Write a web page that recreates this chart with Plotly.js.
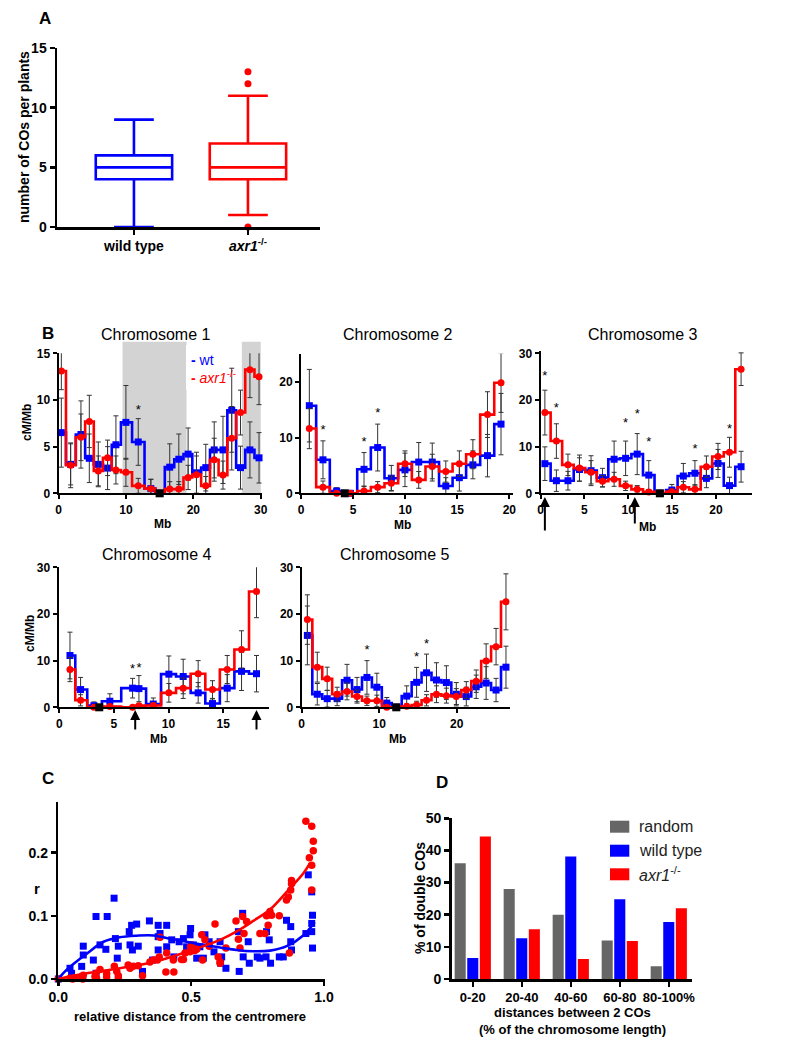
<!DOCTYPE html>
<html>
<head>
<meta charset="utf-8">
<script src="https://cdn.plot.ly/plotly-3.0.1.min.js"></script>
<style>html,body{margin:0;padding:0;background:#fff;}#chart{width:789px;height:1049px;}</style>
</head>
<body>
<div id="chart"></div>
<script>
// ---------------- DATA ----------------
// Panel A : box plot summary (number of COs per plant)
const aGroups = ['wild type', 'axr1'];
const aQ1 = [4, 4];
const aMedian = [5, 5];
const aQ3 = [6, 7];
const aLowerFence = [0, 1];
const aUpperFence = [9, 11];
const aOutlierGroup = [1, 1, 1];
const aOutlierValue = [12, 13, 0];

// Panel B : cM/Mb per bin (bin centres in Mb), wt (blue) and axr1 (red)
const chr1Pos = [0.42,1.80,3.33,4.57,5.90,7.28,8.52,10.0,11.83,13.7,15.04,16.5,17.85,19.23,20.47,21.85,23.1,24.4,25.7,27.0,28.4,29.75];
const chr1Wt = [6.5,3.1,6.3,3.75,3.1,2.7,5.2,7.6,5.5,0.5,0,2.8,3.65,4.2,2.2,2.75,4.65,4.65,8.9,2.75,4.65,3.8];
const chr1WtErr = [3.7,2.2,3.6,2.6,2.4,2.3,3.1,3.95,2.5,1.0,0,2.5,2.7,2.8,2.2,2.5,3.0,3.6,4.5,2.3,3.0,2.7];
const chr1Axr = [13.1,3.0,6.0,7.7,2.4,3.8,2.5,2.25,0.8,0.5,0,0.45,0.45,1.7,2.0,0.8,3.6,1.95,5.9,8.65,13.25,12.5];
const chr1AxrErr = [2.0,2.4,2.5,2.8,1.6,1.9,1.5,1.5,0.8,1.0,0,0.8,0.8,1.3,2.0,1.0,2.3,1.5,3.4,2.4,3.0,3.0];

const chr2Pos = [0.8,2.11,3.42,4.74,6.05,7.36,8.67,9.98,11.3,12.6,13.9,15.2,16.5,17.9,19.2];
const chr2Wt = [15.7,6.0,0.4,0,4.3,8.2,2.7,4.2,5.6,5.6,1.3,2.8,5.1,6.75,12.4];
const chr2WtErr = [6.5,3.4,0.6,0,3.0,4.2,2.3,3.0,3.5,3.4,1.5,2.4,2.5,3.8,5.5];
const chr2Axr = [11.6,1.1,0,0,0.4,1.1,1.8,5.3,2.4,4.8,3.9,5.3,7.0,14.1,19.8];
const chr2AxrErr = [3.6,1.1,0,0,0.8,1.0,1.3,2.3,1.5,2.2,1.9,2.3,2.6,4.1,5.3];

const chr3Pos = [0.5,1.81,3.13,4.44,5.76,7.07,8.39,9.7,11.02,12.34,13.65,14.97,16.28,17.6,18.91,20.23,21.54,22.86];
const chr3Wt = [6.35,2.7,2.7,5.1,4.85,3.35,7.3,7.5,8.4,3.9,0,0.7,3.7,4.3,3.2,6.4,1.65,5.7];
const chr3WtErr = [3.6,2.3,2.0,2.5,3.2,2.0,3.9,3.7,4.4,3.1,0,1.2,2.7,2.7,2.0,3.0,1.8,3.3];
const chr3Axr = [17.3,11.2,6.1,5.4,4.5,2.6,3.0,1.6,0.85,0.3,0,0.35,1.3,0.85,5.7,7.9,8.8,26.6];
const chr3AxrErr = [4.8,3.7,2.3,2.8,2.5,1.2,1.5,1.0,0.8,0.5,0,0.6,1.2,1.0,2.3,2.8,3.2,3.5];

const chr4Pos = [0.98,1.95,3.17,4.63,6.71,7.29,8.6,10.03,11.34,12.71,14.02,15.37,16.68,18.05];
const chr4Wt = [11.1,3.8,0.35,1.3,4.1,4.0,0.7,7.1,6.6,3.1,0.8,4.1,7.7,7.2];
const chr4WtErr = [5.0,2.6,0.8,1.6,2.1,2.8,1.3,3.9,3.7,2.2,1.0,2.9,4.1,3.9];
const chr4Axr = [8.1,1.5,0,0.15,0,0.35,0.4,3.1,4.1,7.2,3.8,8.1,12.4,24.8];
const chr4AxrErr = [2.6,1.2,0,0.3,0,0.5,0.6,2.0,2.2,2.8,1.9,3.0,4.0,5.6];

const chr5Pos = [0.73,2.01,3.29,4.57,5.85,7.14,8.42,9.7,10.98,12.26,13.55,14.83,16.11,17.39,18.67,19.95,21.24,22.52,23.8,25.08,26.36];
const chr5Wt = [15.4,2.8,1.85,1.85,5.8,3.8,6.4,4.3,0.9,0,2.4,5.35,7.4,5.85,5.3,2.8,2.3,4.4,5.2,3.7,8.6];
const chr5WtErr = [6.3,2.3,1.8,1.5,3.4,2.6,3.6,3.0,1.2,0,2.2,3.2,4.0,3.7,3.6,2.5,2.0,2.5,3.5,2.5,4.5];
const chr5Axr = [18.8,8.6,6.1,2.8,3.4,2.3,1.4,1.4,0,0,0.2,0.5,1.5,2.8,2.5,2.3,3.7,5.6,9.9,13.0,22.6];
const chr5AxrErr = [5.3,3.2,2.5,1.5,1.8,1.4,1.0,1.2,0,0,0.5,0.8,1.2,1.8,1.6,1.7,1.8,2.4,3.7,3.9,6.0];

const centromeres = [15.0, 4.2, 13.6, 3.66, 12.2];

const chr1StarX = [11.83], chr1StarY = [8.8];
const chr2StarX = [2.11, 6.05, 7.36], chr2StarY = [11.2, 9.1, 14.3];
const chr3StarX = [0.5, 1.81, 9.7, 11.02, 12.34, 17.6, 21.54, 22.86], chr3StarY = [25, 18.2, 15, 16.9, 10.9, 9.3, 13.7, 31.8];
const chr4StarX = [6.71, 7.29, 18.05], chr4StarY = [8.1, 8.3, 31.2];
const chr5StarX = [8.42, 14.83, 16.11], chr5StarY = [12.1, 10.7, 13.4];

const chr1Shaded = [[9.5, 19.0], [27.2, 30.0]];
const chr3Arrows = [0.5, 10.75];
const chr4Arrows = [6.95, 18.05];

// Panel C : r vs relative distance from the centromere
const cWtX = [0,0.044,0.050,0.088,0.094,0.094,0.132,0.142,0.142,0.157,0.184,0.179,0.210,0.215,0.226,0.222,0.267,0.270,0.276,0.279,0.295,0.301,0.317,0.343,0.355,0.376,0.376,0.376,0.383,0.408,0.408,0.427,0.435,0.455,0.471,0.483,0.498,0.496,0.508,0.521,0.533,0.546,0.552,0.568,0.586,0.609,0.611,0.615,0.631,0.681,0.678,0.694,0.696,0.715,0.719,0.749,0.759,0.782,0.784,0.794,0.799,0.832,0.847,0.859,0.875,0.875,0.878,0.932,0.941,0.954,0.957,0.954,0.954,0.957];
const cWtY = [0,0.017,0.009,0.020,0.038,0.052,0.030,0.099,0.009,0.054,0.099,0.047,0.128,0.064,0.052,0.033,0.075,0.054,0.085,0.046,0.087,0.052,0.012,0.092,0.030,0.085,0.067,0.046,0.072,0.085,0.051,0.062,0.035,0.059,0.064,0.051,0.080,0.070,0.054,0.033,0.051,0.033,0.070,0.059,0.043,0.059,0.025,0.035,0.017,0.012,0.075,0.104,0.035,0.059,0.025,0.035,0.033,0.035,0.075,0.062,0.025,0.035,0.035,0.093,0.083,0.059,0.046,0.072,0.165,0.138,0.101,0.088,0.075,0.049];
const cAxrX = [0,0.044,0.054,0.063,0.088,0.092,0.094,0.138,0.142,0.144,0.157,0.182,0.182,0.211,0.220,0.226,0.226,0.263,0.270,0.282,0.301,0.317,0.345,0.358,0.373,0.383,0.380,0.405,0.408,0.433,0.435,0.464,0.471,0.477,0.496,0.498,0.502,0.514,0.521,0.540,0.543,0.552,0.568,0.590,0.602,0.609,0.609,0.631,0.669,0.678,0.684,0.694,0.699,0.709,0.759,0.778,0.784,0.790,0.797,0.803,0.832,0.859,0.866,0.870,0.875,0.878,0.878,0.932,0.954,0.960,0.960,0.945,0.954,0.954];
const cAxrY = [0,0.001,0.000,0.002,0.004,0.000,0.006,0.004,0.009,0.001,0.015,0.009,0.003,0.020,0.012,0.005,0.001,0.022,0.017,0.020,0.021,0.005,0.027,0.030,0.030,0.066,0.035,0.011,0.041,0.030,0.011,0.031,0.031,0.041,0.043,0.051,0.054,0.045,0.047,0.070,0.030,0.062,0.052,0.087,0.035,0.027,0.025,0.049,0.092,0.063,0.049,0.099,0.072,0.091,0.072,0.072,0.100,0.085,0.107,0.101,0.100,0.125,0.130,0.041,0.141,0.151,0.156,0.250,0.242,0.218,0.203,0.192,0.180,0.141];
const cWtFitX = [0,0.03,0.107,0.17,0.23,0.295,0.358,0.42,0.483,0.546,0.609,0.67,0.734,0.797,0.86,0.922,0.965];
const cWtFitY = [0,0.014,0.040,0.059,0.066,0.0686,0.069,0.064,0.059,0.054,0.050,0.046,0.044,0.045,0.052,0.069,0.090];
const cAxrFitX = [0,0.107,0.232,0.358,0.483,0.609,0.67,0.734,0.797,0.86,0.922,0.947];
const cAxrFitY = [0,0.009,0.017,0.027,0.043,0.062,0.075,0.092,0.110,0.138,0.167,0.183];

// Panel D : % of double COs by distance class
const dCategories = ['0-20', '20-40', '40-60', '60-80', '80-100%'];
const dRandom = [36, 28, 20, 12, 4];
const dWildType = [6.5, 12.7, 38.1, 24.8, 17.7];
const dAxr1 = [44.3, 15.5, 6.2, 11.8, 22.0];

// ---------------- STYLE / LAYOUT ----------------
const FONT = 'Liberation Sans, Arial, Helvetica, sans-serif';
const BLUE = '#0000FF', RED = '#FF0000', GRAY = '#666666';
const W = 789, H = 1049;
const PX = p => p / W;
const PY = p => 1 - p / H;

function axis(domPx, range, tickvals, anchor, isX, extra) {
  const o = {
    domain: isX ? [PX(domPx[0]), PX(domPx[1])] : [PY(domPx[1]), PY(domPx[0])],
    range: range, autorange: false, anchor: anchor,
    showline: true, linecolor: '#000', linewidth: 2,
    ticks: 'outside', ticklen: 5, tickwidth: 2, tickcolor: '#000',
    tickvals: tickvals, showgrid: false, zeroline: false, fixedrange: true,
    tickfont: {family: FONT, size: 12, color: '#000', weight: 'bold'}
  };
  return Object.assign(o, extra || {});
}

const traces = [];
const layout = {
  width: W, height: H, margin: {l: 0, r: 0, t: 0, b: 0},
  paper_bgcolor: '#fff', plot_bgcolor: 'rgba(0,0,0,0)', showlegend: false,
  font: {family: FONT, color: '#000'},
  bargap: 0.23, bargroupgap: 0.12, barmode: 'group',
  shapes: [], annotations: []
};

// Panel A
layout.xaxis = axis([57, 320], [-0.675, 1.632], [0, 1], 'y', true,
  {ticktext: ['wild type', '<i>axr1</i><sup>-/-</sup>'], linewidth: 2.5, tickwidth: 2.5,
   tickfont: {family: FONT, size: 14, color: '#000', weight: 'bold'}});
layout.yaxis = axis([48, 227], [0, 15], [0, 5, 10, 15], 'x', false,
  {linewidth: 2.5, tickwidth: 2.5, tickfont: {family: FONT, size: 14, color: '#000', weight: 'bold'}});
const aColors = [BLUE, RED];
aGroups.forEach((g, i) => {
  traces.push({type: 'box', x: [i], q1: [aQ1[i]], median: [aMedian[i]], q3: [aQ3[i]],
    lowerfence: [aLowerFence[i]], upperfence: [aUpperFence[i]], name: g,
    width: 0.67, whiskerwidth: 0.52, boxpoints: false, fillcolor: 'rgba(255,255,255,0)',
    line: {color: aColors[i], width: 2.6}, xaxis: 'x', yaxis: 'y', hoverinfo: 'skip'});
});
traces.push({type: 'scatter', mode: 'markers', x: aOutlierGroup, y: aOutlierValue, cliponaxis: false,
  marker: {color: RED, size: 7}, xaxis: 'x', yaxis: 'y', hoverinfo: 'skip'});

// Panel B
const chrs = [
  {pos: chr1Pos, wt: chr1Wt, wtE: chr1WtErr, ax: chr1Axr, axE: chr1AxrErr, sx: chr1StarX, sy: chr1StarY,
   dx: [58.5, 262], dy: [353.3, 493.3], xr: [0, 30.19], yr: [0, 15], xt: [0, 10, 20, 30], yt: [0, 5, 10, 15]},
  {pos: chr2Pos, wt: chr2Wt, wtE: chr2WtErr, ax: chr2Axr, axE: chr2AxrErr, sx: chr2StarX, sy: chr2StarY,
   dx: [301, 513], dy: [353.8, 493.3], xr: [0, 20.35], yr: [0, 25], xt: [0, 5, 10, 15, 20], yt: [0, 10, 20]},
  {pos: chr3Pos, wt: chr3Wt, wtE: chr3WtErr, ax: chr3Axr, axE: chr3AxrErr, sx: chr3StarX, sy: chr3StarY,
   dx: [540.5, 751.7], dy: [351, 493.3], xr: [0, 24.07], yr: [0, 30.5], xt: [0, 5, 10, 15, 20], yt: [0, 10, 20, 30]},
  {pos: chr4Pos, wt: chr4Wt, wtE: chr4WtErr, ax: chr4Axr, axE: chr4AxrErr, sx: chr4StarX, sy: chr4StarY,
   dx: [58.5, 269.3], dy: [567.3, 707.3], xr: [-0.07, 19.22], yr: [0, 30], xt: [0, 5, 10, 15], yt: [0, 10, 20, 30]},
  {pos: chr5Pos, wt: chr5Wt, wtE: chr5WtErr, ax: chr5Axr, axE: chr5AxrErr, sx: chr5StarX, sy: chr5StarY,
   dx: [301.7, 510], dy: [567.3, 707.3], xr: [0, 26.88], yr: [0, 30], xt: [0, 10, 20], yt: [0, 10, 20, 30]}
];
chrs.forEach((c, i) => {
  const n = i + 2, xa = 'x' + n, ya = 'y' + n;
  layout['xaxis' + n] = axis(c.dx, c.xr, c.xt, ya, true, {ticklen: 4});
  layout['yaxis' + n] = axis(c.dy, c.yr, c.yt, xa, false, {ticklen: 4});
  const eb = arr => ({type: 'data', array: arr, visible: true, color: '#333', thickness: 1, width: 2.5});
  traces.push({type: 'scatter', mode: 'lines+markers', x: c.pos, y: c.wt, error_y: eb(c.wtE),
    line: {shape: 'hvh', color: BLUE, width: 2.6}, marker: {symbol: 'square', size: 7, color: BLUE},
    cliponaxis: false, xaxis: xa, yaxis: ya, hoverinfo: 'skip'});
  traces.push({type: 'scatter', mode: 'lines+markers', x: c.pos, y: c.ax, error_y: eb(c.axE),
    line: {shape: 'hvh', color: RED, width: 2.6}, marker: {symbol: 'circle', size: 7, color: RED},
    cliponaxis: false, xaxis: xa, yaxis: ya, hoverinfo: 'skip'});
  traces.push({type: 'scatter', mode: 'markers', x: [centromeres[i]], y: [0], cliponaxis: false,
    marker: {symbol: 'square', size: 8, color: '#000'}, xaxis: xa, yaxis: ya, hoverinfo: 'skip'});
  traces.push({type: 'scatter', mode: 'text', x: c.sx, y: c.sy, text: c.sx.map(() => '*'),
    textposition: 'middle center', cliponaxis: false,
    textfont: {family: FONT, size: 13, color: '#000'}, xaxis: xa, yaxis: ya, hoverinfo: 'skip'});
});
// shaded regions chromosome 1
chr1Shaded.forEach(s => {
  layout.shapes.push({type: 'rect', layer: 'below', xref: 'x2', yref: 'y2 domain', x0: s[0], x1: s[1],
    y0: 0, y1: 1.083, fillcolor: '#d3d3d3', line: {width: 0}});
});
// chromosome 1 legend
layout.shapes.push({type: 'rect', layer: 'below', xref: 'paper', yref: 'paper',
  x0: PX(186), x1: PX(236), y0: PY(390), y1: PY(345), fillcolor: '#fff', line: {width: 0}});

// Panel C
layout.xaxis7 = axis([58.3, 325], [0, 1.004], [0, 0.5, 1], 'y7', true,
  {tickformat: '.1f', linewidth: 2.5, tickwidth: 2.5, ticklen: 4, tickfont: {family: FONT, size: 14, color: '#000', weight: 'bold'}});
layout.yaxis7 = axis([801.7, 979], [0, 0.2808], [0, 0.1, 0.2], 'x7', false,
  {tickformat: '.1f', linewidth: 2.5, tickwidth: 2.5, tickfont: {family: FONT, size: 14, color: '#000', weight: 'bold'}});
traces.push({type: 'scatter', mode: 'markers', x: cWtX, y: cWtY, cliponaxis: false,
  marker: {symbol: 'square', size: 7, color: BLUE}, xaxis: 'x7', yaxis: 'y7', hoverinfo: 'skip'});
traces.push({type: 'scatter', mode: 'markers', x: cAxrX, y: cAxrY, cliponaxis: false,
  marker: {symbol: 'circle', size: 7.5, color: RED}, xaxis: 'x7', yaxis: 'y7', hoverinfo: 'skip'});
traces.push({type: 'scatter', mode: 'lines', x: cWtFitX, y: cWtFitY, line: {shape: 'spline', color: BLUE, width: 2.6},
  xaxis: 'x7', yaxis: 'y7', hoverinfo: 'skip'});
traces.push({type: 'scatter', mode: 'lines', x: cAxrFitX, y: cAxrFitY, line: {shape: 'spline', color: RED, width: 2.6},
  xaxis: 'x7', yaxis: 'y7', hoverinfo: 'skip'});

// Panel D
layout.xaxis8 = axis([451.7, 692.3], [-0.43, 4.48], [0, 1, 2, 3, 4], 'y8', true,
  {ticktext: dCategories, linewidth: 2.5, tickwidth: 2.5, tickfont: {family: FONT, size: 13, color: '#000', weight: 'bold'}});
layout.yaxis8 = axis([818.3, 979], [0, 50], [0, 10, 20, 30, 40, 50], 'x8', false,
  {linewidth: 2.5, tickwidth: 2.5, tickfont: {family: FONT, size: 14, color: '#000', weight: 'bold'}});
const dIdx = dCategories.map((c, i) => i);
[[dRandom, GRAY, 'random'], [dWildType, BLUE, 'wild type'], [dAxr1, RED, 'axr1']].forEach(s => {
  traces.push({type: 'bar', x: dIdx, y: s[0], name: s[2], marker: {color: s[1], line: {width: 0}},
    xaxis: 'x8', yaxis: 'y8', hoverinfo: 'skip'});
});
// D legend
[[826.7, GRAY, 'random'], [850.7, BLUE, 'wild type'], [874.3, RED, '<i>axr1</i><sup>-/-</sup>']].forEach(l => {
  layout.shapes.push({type: 'rect', xref: 'paper', yref: 'paper', x0: PX(610), x1: PX(629.3),
    y0: PY(l[0] + 6), y1: PY(l[0] - 6), fillcolor: l[1], line: {width: 0}});
  layout.annotations.push({xref: 'paper', yref: 'paper', x: PX(637), y: PY(l[0]), xanchor: 'left', yanchor: 'middle',
    text: l[2], showarrow: false, font: {family: FONT, size: 16, color: '#222'}});
});

// ---------------- TEXT ----------------
function ann(text, x, y, size, opt) {
  layout.annotations.push(Object.assign({xref: 'paper', yref: 'paper', x: PX(x), y: PY(y),
    xanchor: 'center', yanchor: 'middle', text: text, showarrow: false,
    font: {family: FONT, size: size, color: '#000'}}, opt || {}));
}
ann('<b>A</b>', 45, 18, 17);
ann('<b>B</b>', 48, 333, 17);
ann('<b>C</b>', 48, 778, 17);
ann('<b>D</b>', 442, 782, 17);
ann('<b>number of COs per plants</b>', 24, 137, 14, {textangle: -90});
ann('Chromosome 1', 155, 334, 16);
ann('Chromosome 2', 398, 334, 16);
ann('Chromosome 3', 642, 334, 16);
ann('Chromosome 4', 156, 554, 16);
ann('Chromosome 5', 394, 554, 16);
ann('<b>cM/Mb</b>', 27, 423, 12, {textangle: -90});
ann('<b>cM/Mb</b>', 30, 634, 12, {textangle: -90});
ann('<b>Mb</b>', 162, 524, 12);
ann('<b>Mb</b>', 403, 525, 12);
ann('<b>Mb</b>', 647, 527, 12);
ann('<b>Mb</b>', 158, 739, 12);
ann('<b>Mb</b>', 398, 739, 12);
ann('<b>-</b> wt', 189, 360, 14, {xanchor: 'left', font: {family: FONT, size: 14, color: BLUE}});
ann('<b>-</b> <i>axr1</i><sup>-/-</sup>', 189, 377, 14, {xanchor: 'left', font: {family: FONT, size: 14, color: RED}});
ann('<b>r</b>', 37, 888, 15);
ann('<b>relative distance from the centromere</b>', 190, 1016, 13);
ann('<b>% of double COs</b>', 420, 898, 14, {textangle: -90});
ann('<b>distances between 2 COs</b>', 572, 1012, 13);
ann('<b>(% of the chromosome length)</b>', 572, 1029, 13);

// arrows under chromosome 3 and 4 (tip just under the axis)
chr3Arrows.forEach((x, i) => {
  layout.annotations.push({xref: 'x4', yref: 'paper', x: x, y: PY(497), ax: 0, ay: i === 0 ? 35 : 28, text: '',
    showarrow: true, arrowhead: 2, arrowsize: 1, arrowwidth: 2, arrowcolor: '#000'});
});
chr4Arrows.forEach(x => {
  layout.annotations.push({xref: 'x5', yref: 'paper', x: x, y: PY(710), ax: 0, ay: 21, text: '',
    showarrow: true, arrowhead: 2, arrowsize: 1, arrowwidth: 2, arrowcolor: '#000'});
});

Plotly.newPlot('chart', traces, layout, {staticPlot: true, displayModeBar: false});
</script>
</body>
</html>
